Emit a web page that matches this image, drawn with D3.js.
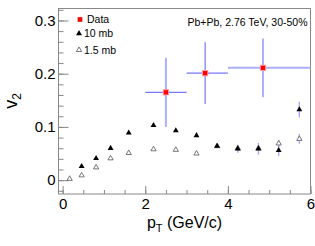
<!DOCTYPE html>
<html>
<head>
<meta charset="utf-8">
<script src="https://cdn.jsdelivr.net/npm/d3@7"></script>
<style>
  body { margin: 0; background: #fff; }
  text { font-family: "Liberation Sans", Arial, Helvetica, sans-serif; }
</style>
</head>
<body>
<div id="chart"></div>
<script>
var width = 315;
var height = 246;

// measured data (red squares)
var dataX = [2.5, 3.45, 4.85];
var dataY = [0.165, 0.201, 0.211];
var dataXlo = [2.0, 3.0, 4.0];
var dataXhi = [3.0, 4.0, 6.0];
var dataYerr = [0.065, 0.058, 0.055];

// 10 mb model (filled triangles)
var mb10X = [0.46, 0.81, 1.16, 1.6, 2.2, 2.74, 3.24, 3.74, 4.24, 4.74, 5.23, 5.73];
var mb10Y = [0.026, 0.041, 0.060, 0.089, 0.103, 0.093, 0.084, 0.064, 0.059, 0.059, 0.056, 0.1325];
var mb10Err = [0, 0, 0, 0, 0, 0, 0, 0.003, 0.0075, 0.011, 0.0105, 0.0147];

// 1.5 mb model (open triangles)
var mb15X = [0.17, 0.46, 0.81, 1.16, 1.6, 2.2, 2.74, 3.24, 3.74, 4.24, 4.74, 5.23, 5.73];
var mb15Y = [0.0025, 0.009, 0.024, 0.041, 0.051, 0.058, 0.057, 0.050, 0.064, 0.060, 0.060, 0.069, 0.0775];
var mb15Err = [0, 0, 0, 0, 0, 0, 0, 0, 0, 0, 0, 0.0065, 0.009];

var xTicks = [0, 2, 4, 6];
var yTicks = [0, 0.1, 0.2, 0.3];

var frame = {left: 58.5, right: 310.5, top: 8.5, bottom: 194};

var x = d3.scaleLinear().domain([-0.1, 6.0]).range([frame.left, frame.right]);
var y = d3.scaleLinear().domain([-0.026, 0.3225]).range([frame.bottom, frame.top]);

var svg = d3.select("#chart")
    .append("svg")
    .attr("width", width)
    .attr("height", height);

// frame
svg.append("rect")
    .attr("x", frame.left)
    .attr("y", frame.top)
    .attr("width", frame.right - frame.left)
    .attr("height", frame.bottom - frame.top)
    .attr("fill", "none")
    .attr("stroke", "#888")
    .attr("stroke-width", 1);

// minor ticks
var xMinor = d3.range(0, 6.01, 0.5);
var yMinor = d3.range(-0.02, 0.321, 0.02);

svg.append("g")
    .attr("transform", "translate(0," + frame.bottom + ")")
    .call(d3.axisBottom(x).tickValues(xMinor).tickSize(-4).tickFormat(""))
    .call(function(g){ g.select(".domain").remove(); })
    .selectAll("line").attr("stroke", "#888");

svg.append("g")
    .attr("transform", "translate(" + frame.left + ",0)")
    .call(d3.axisLeft(y).tickValues(yMinor).tickSize(-5).tickFormat(""))
    .call(function(g){ g.select(".domain").remove(); })
    .selectAll("line").attr("stroke", "#888");

// major ticks + labels
var gx = svg.append("g")
    .attr("transform", "translate(0," + frame.bottom + ")")
    .call(d3.axisBottom(x).tickValues(xTicks).tickSize(-8).tickPadding(3)
        .tickFormat(d3.format("d")));
gx.select(".domain").remove();
gx.selectAll("line").attr("stroke", "#888");
gx.selectAll("text").attr("font-size", "15px").attr("fill", "#000").attr("dy", "0.78em");

var gy = svg.append("g")
    .attr("transform", "translate(" + frame.left + ",0)")
    .call(d3.axisLeft(y).tickValues(yTicks).tickSize(-10).tickPadding(3)
        .tickFormat(function(d){ return d === 0 ? "0" : d3.format(".1f")(d); }));
gy.select(".domain").remove();
gy.selectAll("line").attr("stroke", "#888");
gy.selectAll("text").attr("font-size", "15px").attr("fill", "#000");

// axis titles
var xt = svg.append("text")
    .attr("x", (frame.left + frame.right) / 2)
    .attr("y", 228)
    .attr("text-anchor", "middle")
    .attr("font-size", "16px");
xt.append("tspan").text("p");
xt.append("tspan").attr("font-size", "11px").attr("dy", 4).text("T");
xt.append("tspan").attr("dy", -4).text(" (GeV/c)");

var yt = svg.append("text")
    .attr("transform", "translate(17,101) rotate(-90)")
    .attr("text-anchor", "middle")
    .attr("font-size", "18px");
yt.append("tspan").text("v");
yt.append("tspan").attr("font-size", "12px").attr("dy", 4).text("2");

// model error bars
var errColor = "#8f8fff";
function drawErr(xs, ys, es) {
    svg.append("g")
        .selectAll("line")
        .data(xs.map(function(d, i){ return {x: d, y: ys[i], e: es[i]}; })
            .filter(function(d){ return d.e > 0; }))
        .enter()
            .append("line")
            .attr("x1", function(d){ return x(d.x); })
            .attr("x2", function(d){ return x(d.x); })
            .attr("y1", function(d){ return y(d.y - d.e); })
            .attr("y2", function(d){ return y(d.y + d.e); })
            .attr("stroke", errColor)
            .attr("stroke-width", 1.3)
            .attr("opacity", 0.8);
}
drawErr(mb10X, mb10Y, mb10Err);
drawErr(mb15X, mb15Y, mb15Err);

var triFilled = d3.symbol().type(d3.symbolTriangle).size(15);
var triOpen = d3.symbol().type(d3.symbolTriangle).size(12);
var square = d3.symbol().type(d3.symbolSquare).size(28);

// 1.5 mb open triangles
svg.append("g")
    .selectAll("path")
    .data(mb15X)
    .enter()
        .append("path")
        .attr("d", triOpen)
        .attr("transform", function(d, i){ return "translate(" + x(d) + "," + y(mb15Y[i]) + ")"; })
        .attr("fill", "#fff")
        .attr("stroke", "#555")
        .attr("stroke-width", 0.8);

// 10 mb filled triangles
svg.append("g")
    .selectAll("path")
    .data(mb10X)
    .enter()
        .append("path")
        .attr("d", triFilled)
        .attr("transform", function(d, i){ return "translate(" + x(d) + "," + y(mb10Y[i]) + ")"; })
        .attr("fill", "#000");

// data error bars
var dataG = svg.append("g");
dataX.forEach(function(d, i){
    dataG.append("line")
        .attr("x1", x(dataXlo[i])).attr("x2", x(dataXhi[i]))
        .attr("y1", y(dataY[i])).attr("y2", y(dataY[i]))
        .attr("stroke", i == 2 ? "#aab0ff" : "#7777ff")
        .attr("stroke-width", i == 2 ? 2 : 1.2);
    dataG.append("line")
        .attr("x1", x(d)).attr("x2", x(d))
        .attr("y1", y(dataY[i] - dataYerr[i])).attr("y2", y(dataY[i] + dataYerr[i]))
        .attr("stroke", i == 1 ? "#7777ff" : "#aab0ff")
        .attr("stroke-width", i == 1 ? 1.2 : 2);
});

dataG.selectAll("path")
    .data(dataX)
    .enter()
        .append("path")
        .attr("d", square)
        .attr("transform", function(d, i){ return "translate(" + x(d) + "," + y(dataY[i]) + ")"; })
        .attr("fill", "#ff0000")
        .attr("stroke", "#ff9a9a")
        .attr("stroke-width", 1);

// legend
var legend = svg.append("g").attr("font-size", "10.5px");
legend.append("path").attr("d", square.size(22)).attr("transform", "translate(80,19.5)")
    .attr("fill", "#ff0000");
legend.append("text").attr("x", 87).attr("y", 23).text("Data");
legend.append("path").attr("d", triFilled).attr("transform", "translate(79,33.5)")
    .attr("fill", "#000");
legend.append("text").attr("x", 84).attr("y", 37).text("10 mb");
legend.append("path").attr("d", triOpen).attr("transform", "translate(79,50)")
    .attr("fill", "#fff").attr("stroke", "#555").attr("stroke-width", 0.8);
legend.append("text").attr("x", 84).attr("y", 53.5).text("1.5 mb");

svg.append("text")
    .attr("x", 307.5)
    .attr("y", 26)
    .attr("text-anchor", "end")
    .attr("font-size", "10.5px")
    .text("Pb+Pb, 2.76 TeV, 30-50%");
</script>
</body>
</html>
